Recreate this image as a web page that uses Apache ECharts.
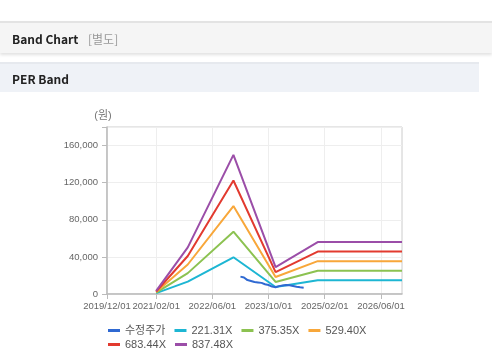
<!DOCTYPE html>
<html><head><meta charset="utf-8">
<script src="https://cdn.jsdelivr.net/npm/echarts@6/dist/echarts.min.js"></script>
<style>
html,body{margin:0;padding:0;background:#fff;width:492px;height:361px;overflow:hidden;}
#chart{position:absolute;left:0;top:0;width:492px;height:361px;}
.hdr1{position:absolute;left:0;top:21px;width:492px;height:30px;background:#f5f5f5;border-top:2px solid #e3e3e3;box-shadow:0 2px 3px rgba(0,0,0,0.12);font-family:"Noto Sans CJK KR",sans-serif;}
.hdr1 b{position:absolute;left:12px;top:7px;font-size:12px;color:#222;}
.hdr1 span{position:absolute;left:88px;top:7px;font-size:12px;color:#999;}
.hdr2{position:absolute;left:0;top:62px;width:479px;height:28px;background:#eff2f7;border-top:2px solid #e6e9ee;font-family:"Noto Sans CJK KR",sans-serif;}
.hdr2 b{position:absolute;left:12px;top:6px;font-size:12px;color:#222;}
</style></head>
<body>
<div id="chart"></div>
<div class="hdr1"><b>Band Chart</b><span>[별도]</span></div>
<div class="hdr2"><b>PER Band</b></div>
<script>
// Axis categories (monthly)
const months = [];
for (let i = 0; i < 85; i++) {
  const m = 11 + i;
  const y = 2019 + Math.floor(m / 12);
  const mo = (m % 12) + 1;
  months.push(y + '/' + String(mo).padStart(2, '0') + '/01');
}
const labelMonths = ['2019/12/01','2021/02/01','2022/06/01','2023/10/01','2025/02/01','2026/06/01'];

// Band series (read at vertices)
const bandDates = ['2021/02/01','2021/11/01','2022/12/01','2023/12/01','2024/12/01','2026/12/01'];
const band221 = [1000, 13300, 39600, 7600, 14800, 14800];
const band375 = [1500, 22500, 67200, 13000, 25100, 25100];
const band529 = [2100, 31800, 94800, 18300, 35400, 35400];
const band683 = [2700, 41000, 122300, 23600, 45700, 45700];
const band837 = [3300, 50300, 149900, 28900, 56000, 56000];

// Adjusted price
const priceDates = ['2023/02/01','2023/03/01','2023/04/01','2023/05/01','2023/06/01','2023/07/01','2023/08/01','2023/09/01','2023/10/01','2023/11/01','2023/12/01','2024/01/01','2024/02/01','2024/03/01','2024/04/01','2024/05/01','2024/06/01','2024/07/01','2024/08/01'];
const priceVals = [18700, 17800, 15000, 14000, 13000, 12500, 12000, 10500, 9700, 8000, 7300, 8500, 9200, 9700, 9500, 8700, 7900, 7300, 6800];

const names = ['수정주가','221.31X','375.35X','529.40X','683.44X','837.48X'];
const colors = ['#2f69d2','#1db6d3','#8cc251','#f8a73a','#e23a2f','#9b4ea8'];

function pairs(d, v) { return d.map((x, i) => [x, v[i]]); }
const seriesData = [pairs(priceDates, priceVals), pairs(bandDates, band221), pairs(bandDates, band375),
  pairs(bandDates, band529), pairs(bandDates, band683), pairs(bandDates, band837)];

const isLabel = (idx, val) => labelMonths.indexOf(val) >= 0;
const fmt = v => v > 160000 ? '' : String(v).replace(/\B(?=(\d{3})+(?!\d))/g, ',');

const chart = echarts.init(document.getElementById('chart'));
chart.setOption({
  animation: false,
  textStyle: { fontFamily: '"Liberation Sans","Noto Sans CJK KR",sans-serif' },
  grid: { left: 107, right: 90, top: 127, bottom: 67, show: true, borderColor: '#ccc', borderWidth: 1 },
  legend: [
    { data: names.slice(0, 4), left: 103, top: 320, icon: 'rect', itemWidth: 12, itemHeight: 3, itemGap: 9,
      textStyle: { fontSize: 11, color: '#555' } },
    { data: names.slice(4), left: 103, top: 334, icon: 'rect', itemWidth: 12, itemHeight: 3, itemGap: 9,
      textStyle: { fontSize: 11, color: '#555' } }
  ],
  xAxis: {
    type: 'category', data: months, boundaryGap: false,
    axisLine: { lineStyle: { color: '#bbb', width: 1.5 } },
    axisTick: { interval: isLabel, length: 5, lineStyle: { color: '#bbb' } },
    axisLabel: { interval: isLabel, color: '#666', fontSize: 9.5, margin: 8 },
    splitLine: { show: true, interval: isLabel, lineStyle: { color: '#eee' } }
  },
  yAxis: {
    type: 'value', min: 0, max: 180000, interval: 40000,
    name: '(원)', nameLocation: 'end', nameGap: 6,
    nameTextStyle: { color: '#777', fontSize: 11, padding: [0, 8, 0, 0] },
    axisLine: { show: true, lineStyle: { color: '#bbb', width: 1.5 } },
    axisTick: { show: true, length: 5, lineStyle: { color: '#bbb' } },
    axisLabel: { color: '#666', fontSize: 9.5, margin: 9, formatter: fmt },
    splitLine: { lineStyle: { color: '#eee' } }
  },
  series: names.map((n, i) => ({
    name: n, type: 'line', data: seriesData[i], showSymbol: false, symbol: 'none',
    color: colors[i], lineStyle: { width: 2, color: colors[i] }, z: i === 0 ? 3 : 2
  }))
});
</script>
</body></html>
